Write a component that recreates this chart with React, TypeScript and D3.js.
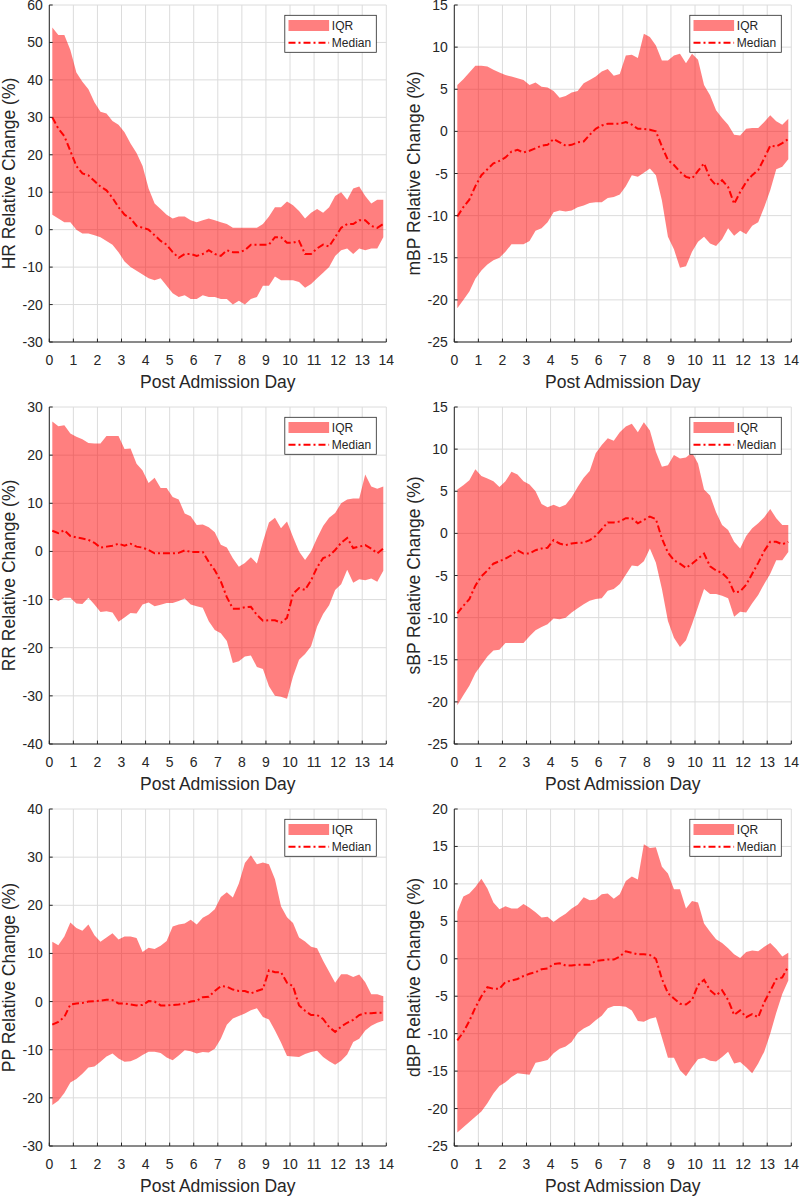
import * as d3 from "d3";
import * as React from "react";

// sample positions (post admission day, quarter-day bins)
const days = [
  0.125, 0.375, 0.625, 0.875, 1.125, 1.375, 1.625, 1.875, 2.125, 2.375, 2.625, 2.875,
  3.125, 3.375, 3.625, 3.875, 4.125, 4.375, 4.625, 4.875, 5.125, 5.375, 5.625, 5.875,
  6.125, 6.375, 6.625, 6.875, 7.125, 7.375, 7.625, 7.875, 8.125, 8.375, 8.625, 8.875,
  9.125, 9.375, 9.625, 9.875, 10.125, 10.375, 10.625, 10.875, 11.125, 11.375, 11.625, 11.875,
  12.125, 12.375, 12.625, 12.875, 13.125, 13.375, 13.625, 13.875,
];

const xTicks = [0, 1, 2, 3, 4, 5, 6, 7, 8, 9, 10, 11, 12, 13, 14];

// HR
const hrUpper = [
  54, 52, 52, 48, 42, 39.5, 37.5, 34, 31.5, 31, 29, 28, 26, 23, 20.5, 17, 11, 7, 5.5, 4,
  3, 3.5, 3.5, 2.5, 2, 2.5, 3, 2.5, 2, 1.5, 0.5, 0.5, 0.5, 0.5, 0.5, 1.5, 3.5, 6, 6, 7.5,
  6.5, 5, 3, 4.5, 5.5, 4.5, 6, 9, 10, 8, 11, 11.5, 9, 7, 8, 8,
];
const hrLower = [
  4, 3, 2, 2, 0, -1, -1, -1.5, -2, -3, -4, -6, -8.5, -10, -11, -12, -13, -13.5, -13, -15,
  -17, -18, -17.5, -18.5, -18.5, -17.5, -18, -18, -18.5, -18.5, -20, -19, -20, -18.5, -18, -15,
  -15, -12.5, -13.5, -13.5, -13.5, -14, -15.5, -14.5, -13, -11.5, -10, -7, -5.5, -5, -6.5, -5,
  -5.5, -5, -5, -2,
];
const hrMedian = [
  30, 27, 25, 21, 17, 15, 14.5, 13, 11.5, 10.5, 8.5, 6, 4, 3, 1, 0.5, 0, -1.5, -3, -4,
  -6, -7.5, -6.5, -6.5, -7, -6.5, -5.5, -6.5, -7, -5.5, -6, -6, -5.5, -4, -4, -4, -4, -2, -2,
  -3.5, -3.5, -3, -6.5, -6.5, -5, -4, -4.5, -2, 0.5, 1.5, 1.5, 2.5, 2.5, 1, 0.5, 1.5,
];
const hrTicks = [-30, -20, -10, 0, 10, 20, 30, 40, 50, 60];

// mBP
const mbpUpper = [
  5.5, 6.2, 7, 7.8, 7.8, 7.7, 7.3, 7, 6.7, 6.5, 6.3, 6.1, 5.5, 5.8, 5.3, 5.2, 4.8, 4, 4.2, 4.6,
  4.8, 5.7, 6.1, 6.5, 7.1, 7.4, 6.6, 6.8, 9, 9.1, 8.7, 11.6, 11.2, 10.2, 8.4, 8.4, 9, 9.2, 8.1,
  9.2, 8.5, 5.5, 4.3, 2.5, 1.6, 0.8, -0.4, -0.5, 0.3, 0.4, 0.4, 1.1, 1.9, 1.2, 0.8, 1.5,
];
const mbpLower = [
  -21, -20, -19, -17.5, -16.5, -15.8, -15.3, -15, -14.3, -13.4, -13.4, -13.4, -13, -11.8, -11.5,
  -10.8, -9.6, -9.4, -9.5, -9.4, -9, -8.8, -8.5, -8.4, -8.4, -7.9, -7.8, -7.5, -6.5, -5.2, -5.4,
  -4.9, -4.4, -5.2, -8.2, -12.5, -14, -16.2, -16, -14.3, -13.1, -12.5, -13.3, -13.6, -12.8, -11.5,
  -12.4, -11.8, -12.2, -11.2, -10.8, -9, -7, -4.5, -4.2, -3.3,
];
const mbpMedian = [
  -10.1, -9, -8.1, -6.5, -5.2, -4.5, -3.8, -3.5, -3.1, -2.4, -2.2, -2.5, -2.3, -2, -1.7, -1.6,
  -0.9, -1.3, -1.7, -1.6, -1.3, -1.2, -0.4, 0.3, 0.7, 0.9, 0.9, 0.9, 1.1, 0.8, 0.3, 0.3, 0.2, 0,
  -1.8, -3.4, -4, -4.8, -5.4, -5.6, -4.7, -3.8, -5.6, -6.4, -5.8, -6.6, -8.6, -7.2, -6, -5.2,
  -4.6, -3.2, -1.7, -1.8, -1.4, -0.9,
];
const mbpTicks = [-25, -20, -15, -10, -5, 0, 5, 10, 15];

// RR
const rrUpper = [
  27, 26, 26.2, 24.5, 23.8, 23.3, 22.5, 22.4, 22.4, 24, 24, 24, 21.3, 21.4, 18.2, 16.8, 14.2,
  15.3, 13.2, 13.2, 11.3, 10.8, 7.9, 7.3, 5.5, 5.6, 5, 4, 1.4, 0.8, -1.4, -3.2, -2.4, -1.2, -2.5,
  2, 6, 7, 4.8, 6.2, 3, 0, -1.8, 0, 2.8, 5.3, 7, 8, 10, 10.8, 11, 11, 16, 13.5, 13, 13.5,
];
const rrLower = [
  -9.6, -10.3, -9.6, -9.6, -10.8, -10.9, -9.6, -11, -12.6, -12.4, -12.7, -14.6, -13.7, -12.8,
  -12.9, -11, -10.6, -11.4, -11.1, -10.7, -10.7, -10.3, -9.8, -11, -11.4, -11.7, -14.5, -16.3,
  -17, -18.6, -23.2, -22.8, -21.8, -21.6, -24, -24.4, -28, -30, -30.2, -30.6, -26, -22.5, -21.3,
  -19.7, -15.6, -13, -11.2, -8, -6.8, -3.8, -6.5, -5.8, -6, -5.6, -6.3, -4,
];
const rrMedian = [
  4.3, 3.8, 4.4, 3.2, 2.9, 2.7, 2.4, 1.8, 0.8, 1, 1.2, 1.6, 1.2, 1.6, 1, 0.8, 0.3, -0.4, -0.4,
  -0.4, -0.4, -0.3, 0.2, -0.1, -0.1, -0.1, -2.2, -3.9, -6.2, -9.5, -11.9, -11.9, -11.6, -11.5,
  -13.2, -14.4, -14.3, -14.3, -14.8, -13.8, -8.8, -7.6, -8, -6, -3.3, -1.4, -0.9, 0.3, 1.8, 2.8,
  0.7, 1, 1.3, 0.6, -0.4, 0.6,
];
const rrTicks = [-40, -30, -20, -10, 0, 10, 20, 30];

// sBP
const sbpUpper = [
  5.2, 5.7, 6.3, 7.6, 6.8, 6.5, 6.2, 5.5, 6.2, 7.3, 7, 6.2, 5.8, 5, 3.5, 3.1, 3.4, 3.1, 3.4, 4.3,
  5.5, 6.6, 7.4, 9.5, 10.5, 11.3, 11, 12, 12.7, 13, 12, 13.2, 12.2, 9.7, 7.9, 8.1, 9.3, 8.9, 9,
  9.6, 8.3, 5.2, 4.5, 2.5, 1, 0.4, -1, -1.8, -0.3, 0.6, 1.2, 1.9, 2.9, 1.8, 1, 1,
];
const sbpLower = [
  -20.4, -19.2, -18.1, -16.6, -15.6, -14.6, -13.9, -13.8, -13, -13, -13, -13, -12.2, -11.5,
  -11.1, -10.8, -10.1, -10.2, -10, -9.4, -8.9, -8.4, -8, -7.8, -7.7, -6.8, -6.6, -6, -4.9, -3.8,
  -3.9, -3.3, -1.8, -3.5, -6.6, -10.4, -12.4, -13.5, -12.7, -10.8, -8.7, -6.6, -7.2, -7.2, -7.4,
  -7.7, -9.9, -9.3, -9.4, -8.3, -7.3, -6, -4.8, -3.2, -3.2, -2.2,
];
const sbpMedian = [
  -9.5, -8.6, -7.8, -6.2, -5.1, -4.4, -3.6, -3.3, -3, -2.6, -2, -2.4, -2.4, -2, -1.8, -1.7, -0.8,
  -1.2, -1.4, -1.2, -1.1, -1.1, -0.8, -0.3, 0.5, 1.3, 1.3, 1.4, 1.8, 1.8, 1.2, 1.6, 2, 1.7, -0.6,
  -2.3, -3.2, -3.6, -4.1, -3.6, -3, -2.4, -3.9, -4.4, -4.7, -5.4, -7, -6.9, -6.1, -4.8, -3.5,
  -2.1, -1, -1, -1.3, -1,
];
const sbpTicks = [-25, -20, -15, -10, -5, 0, 5, 10, 15];

// PP
const ppUpper = [
  12.4, 11.7, 13.5, 16.4, 15.3, 14.7, 16, 13.8, 12.4, 13.3, 14.2, 12.9, 13.5, 13.5, 13.2, 10.3,
  11.2, 10.9, 11.6, 12.6, 15.6, 16, 16.2, 17, 16, 17.4, 18.1, 19.2, 21.7, 22.7, 21.6, 24.5, 28.8,
  30.4, 28.5, 28.9, 28.5, 25.4, 19.8, 17.5, 16.3, 13.3, 12.5, 11.4, 11.1, 8.5, 6.2, 3.9, 5.7,
  5.7, 5.1, 5.6, 4, 1.5, 1.5, 1.1,
];
const ppLower = [
  -21.5, -20.6, -19, -16.8, -16.1, -15, -13.7, -13.5, -12.5, -11.4, -10.8, -11.8, -12.5, -12.4,
  -11.9, -11.1, -10.4, -10.4, -10.7, -11.6, -12.2, -11.2, -10.1, -10.3, -10.8, -10.5, -10.6,
  -9.8, -7.7, -4.8, -3.5, -3, -2.5, -1.8, -1.4, -3.2, -3.7, -6, -8.5, -11.3, -11.4, -11.5,
  -10.9, -10.5, -10.2, -11.5, -12.4, -13.1, -12.3, -11, -8.4, -7.7, -6, -5, -4.4, -4,
];
const ppMedian = [
  -4.8, -4.2, -3.2, -0.6, -0.4, -0.3, 0, 0.1, 0.2, 0.4, 0.3, -0.4, -0.4, -0.6, -0.8, -0.7, 0.1,
  0, -0.8, -0.8, -0.7, -0.6, -0.4, 0, 0.2, 0.9, 1, 2.2, 3.2, 3.1, 2.5, 2.2, 2.2, 1.7, 2.2, 2.6,
  6.5, 6.1, 6.1, 3.9, 3.2, -0.8, -1.9, -2.8, -2.8, -3.6, -5.3, -6.3, -5.2, -4.4, -3.8, -2.8,
  -2.4, -2.4, -2.3, -2.3,
];
const ppTicks = [-30, -20, -10, 0, 10, 20, 30, 40];

// dBP
const dbpUpper = [
  6.3, 8.3, 8.7, 9.6, 10.7, 9.4, 7.5, 6.6, 7, 6.7, 6.7, 7.3, 6.8, 6.2, 5.5, 5.6, 4.9, 5.5, 6, 6.7,
  7.2, 8.2, 7.8, 7.9, 8.6, 8.7, 8, 8.6, 10.4, 11, 10.6, 15.3, 14.8, 14.9, 12.3, 11.4, 9.3, 9.3,
  6.7, 7.7, 7.5, 4.7, 3.6, 2.6, 2.1, 1.4, 0.6, 0.1, 0.9, 1.1, 1, 1.6, 2.1, 1.3, 0.3, 0.8,
];
const dbpLower = [
  -23.2, -22.5, -21.8, -21.1, -20.4, -19.3, -18, -17, -16.5, -15.8, -15.3, -15.4, -15.5, -13.9,
  -13.7, -13.5, -12.6, -12, -11.7, -11.1, -9.9, -9.3, -8.9, -8.2, -7.6, -6.6, -6.3, -6.3, -6.4,
  -6.9, -8.3, -8.4, -8, -7.8, -10.5, -13.2, -13.2, -14.9, -15.7, -14.5, -13.4, -13.2, -13.6,
  -13.7, -13.1, -12.4, -14, -13.8, -14.5, -15.3, -14, -12.4, -10, -7.2, -4.7, -2.9,
];
const dbpMedian = [
  -10.9, -9.8, -8.3, -6.5, -5, -3.8, -4, -4, -3.1, -2.9, -2.7, -2.3, -2, -1.8, -1.4, -1.3, -0.7,
  -0.6, -0.9, -0.9, -0.8, -0.8, -0.8, -0.3, -0.2, -0.1, -0.1, 0.3, 1, 0.8, 0.6, 0.6, 0.5, 0,
  -2.7, -4.6, -5.3, -6, -6.1, -5.5, -3.5, -2.8, -4.2, -4.9, -4.2, -5.5, -7.5, -6.9, -7.8, -7.4,
  -7.8, -5.8, -4.3, -2.7, -2.5, -1,
];
const dbpTicks = [-25, -20, -15, -10, -5, 0, 5, 10, 15, 20];

const panels = [
  { label: "HR Relative Change (%)", upper: hrUpper, lower: hrLower, median: hrMedian, ticks: hrTicks },
  { label: "mBP Relative Change (%)", upper: mbpUpper, lower: mbpLower, median: mbpMedian, ticks: mbpTicks },
  { label: "RR Relative Change (%)", upper: rrUpper, lower: rrLower, median: rrMedian, ticks: rrTicks },
  { label: "sBP Relative Change (%)", upper: sbpUpper, lower: sbpLower, median: sbpMedian, ticks: sbpTicks },
  { label: "PP Relative Change (%)", upper: ppUpper, lower: ppLower, median: ppMedian, ticks: ppTicks },
  { label: "dBP Relative Change (%)", upper: dbpUpper, lower: dbpLower, median: dbpMedian, ticks: dbpTicks },
];

const colLeft = [49.3, 454.3];
const rowTop = [5, 407, 809];
const plotW = 337;
const plotH = 337;

const font = "'Liberation Sans', Arial, Helvetica, sans-serif";
const ink = "#262626";
const gridColor = "#dcdcdc";
const fillColor = "#ff0000";
const lineColor = "#ff0000";
const dash = "7,3,2,3";

function Panel({ p, left, top }: { p: any; left: number; top: number }) {
  const x = d3.scaleLinear().domain([0, 14]).range([0, plotW]);
  const y = d3
    .scaleLinear()
    .domain([p.ticks[0], p.ticks[p.ticks.length - 1]])
    .range([plotH, 0]);

  const area = d3
    .area<number>()
    .x((d, i) => x(days[i]))
    .y0((d, i) => y(p.lower[i]))
    .y1((d) => y(d));
  const line = d3
    .line<number>()
    .x((d, i) => x(days[i]))
    .y((d) => y(d));

  // legend box, top right
  const lw = 91.5;
  const lx = plotW - 10 - lw;
  const ly = 10.3;

  return (
    <g transform={`translate(${left},${top})`} fontFamily={font}>
      {/* grid */}
      {xTicks.map((t) => (
        <line key={"gx" + t} x1={x(t)} x2={x(t)} y1={0} y2={plotH} stroke={gridColor} />
      ))}
      {p.ticks.map((t) => (
        <line key={"gy" + t} x1={0} x2={plotW} y1={y(t)} y2={y(t)} stroke={gridColor} />
      ))}

      <path d={area(p.upper) as string} fill={fillColor} fillOpacity={0.5} />
      <path
        d={line(p.median) as string}
        fill="none"
        stroke={lineColor}
        strokeWidth={2}
        strokeDasharray={dash}
      />

      {/* axes */}
      <line x1={0} x2={plotW} y1={plotH} y2={plotH} stroke={ink} />
      <line x1={0} x2={0} y1={0} y2={plotH} stroke={ink} />
      {xTicks.map((t) => (
        <g key={"xt" + t}>
          <line x1={x(t)} x2={x(t)} y1={plotH} y2={plotH - 3.4} stroke={ink} />
          <text
            x={x(t)}
            y={plotH + 18}
            textAnchor="middle"
            dominantBaseline="central"
            fontSize={14}
            fill={ink}
          >
            {t}
          </text>
        </g>
      ))}
      {p.ticks.map((t) => (
        <g key={"yt" + t}>
          <line x1={0} x2={3.4} y1={y(t)} y2={y(t)} stroke={ink} />
          <text
            x={-6.5}
            y={y(t)}
            textAnchor="end"
            dominantBaseline="central"
            fontSize={14}
            fill={ink}
          >
            {t}
          </text>
        </g>
      ))}
      <text
        x={plotW / 2}
        y={plotH + 40}
        textAnchor="middle"
        dominantBaseline="central"
        fontSize={17.5}
        fill={ink}
      >
        Post Admission Day
      </text>
      <text
        transform={`translate(${-40.5},${plotH / 2}) rotate(-90)`}
        textAnchor="middle"
        dominantBaseline="central"
        fontSize={17.5}
        fill={ink}
      >
        {p.label}
      </text>

      {/* legend */}
      <g transform={`translate(${lx},${ly})`}>
        <rect x={0} y={0} width={lw} height={37} fill="#fff" stroke={ink} strokeWidth={0.8} />
        <rect x={3.7} y={4.7} width={40.6} height={11} fill={fillColor} fillOpacity={0.5} />
        <line
          x1={3.7}
          x2={44.3}
          y1={27.5}
          y2={27.5}
          stroke={lineColor}
          strokeWidth={2}
          strokeDasharray={dash}
        />
        <text x={47} y={10.3} dominantBaseline="central" fontSize={12} fill={ink}>
          IQR
        </text>
        <text x={47} y={27.5} dominantBaseline="central" fontSize={12} fill={ink}>
          Median
        </text>
      </g>
    </g>
  );
}

export default function App() {
  return (
    <>
      <style>{`body{margin:0}`}</style>
      <svg width={800} height={1196} style={{ display: "block", background: "#fff" }}>
        {panels.map((p, i) => (
          <Panel key={p.label} p={p} left={colLeft[i % 2]} top={rowTop[Math.floor(i / 2)]} />
        ))}
      </svg>
    </>
  );
}
